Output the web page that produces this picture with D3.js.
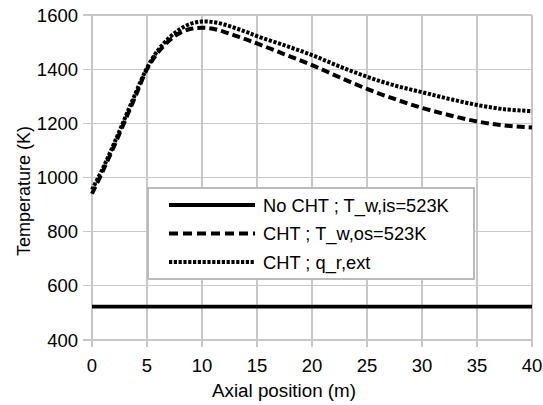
<!DOCTYPE html>
<html>
<head>
<meta charset="utf-8">
<script src="https://cdn.jsdelivr.net/npm/d3@7"></script>
<style>
  body { margin: 0; background: #fff; }
  text { font-family: "Liberation Sans", Arial, sans-serif; fill: #000; }
</style>
</head>
<body>
<div id="chart"></div>
<script>
// Data.
var xPos = [0, 1, 2, 3, 4, 5, 6, 7, 8, 9, 10, 11, 12, 13, 14, 15, 17.5, 20, 22.5, 25, 27.5, 30, 32.5, 35, 37.5, 40];
var noCht = [523, 523, 523, 523, 523, 523, 523, 523, 523, 523, 523, 523, 523, 523, 523, 523, 523, 523, 523, 523, 523, 523, 523, 523, 523, 523];
var chtOs = [940, 1025, 1115, 1210, 1305, 1400, 1462, 1505, 1534, 1549, 1553, 1549, 1538, 1524, 1510, 1495, 1455, 1415, 1370, 1327, 1290, 1257, 1230, 1207, 1192, 1185];
var chtQr = [955, 1035, 1125, 1220, 1315, 1405, 1470, 1515, 1548, 1568, 1576, 1574, 1565, 1552, 1538, 1522, 1488, 1452, 1410, 1372, 1340, 1315, 1290, 1268, 1252, 1245];
var xTicks = [0, 5, 10, 15, 20, 25, 30, 35, 40];
var yTicks = [400, 600, 800, 1000, 1200, 1400, 1600];
var seriesNames = ["No CHT ; T_w,is=523K", "CHT ; T_w,os=523K", "CHT ; q_r,ext"];

// Dimensions and margins.
var W = 543, H = 405;
var margin = {top: 15, right: 11, bottom: 65, left: 92},
    width = W - margin.left - margin.right,
    height = H - margin.top - margin.bottom;

var svg = d3.select("#chart")
    .append("svg")
    .attr("width", W)
    .attr("height", H);

var g = svg.append("g")
    .attr("transform", "translate(" + margin.left + "," + margin.top + ")");

// Scales.
var x = d3.scaleLinear().domain([0, 40]).range([0, width]),
    y = d3.scaleLinear().domain([400, 1600]).range([height, 0]);

var gridColor = "#c8c8c8";

// Grid lines (extend past the axes as tick marks).
g.append("g").selectAll("line").data(yTicks).enter().append("line")
    .attr("x1", -9).attr("x2", width)
    .attr("y1", function(d) { return y(d); })
    .attr("y2", function(d) { return y(d); })
    .attr("stroke", gridColor).attr("stroke-width", 1.2)
    .attr("shape-rendering", "crispEdges");

g.append("g").selectAll("line").data(xTicks).enter().append("line")
    .attr("y1", 0).attr("y2", height + 7)
    .attr("x1", function(d) { return x(d); })
    .attr("x2", function(d) { return x(d); })
    .attr("stroke", gridColor).attr("stroke-width", 1.2)
    .attr("shape-rendering", "crispEdges");

// Tick labels.
g.append("g").selectAll("text").data(yTicks).enter().append("text")
    .attr("x", -14)
    .attr("y", function(d) { return y(d); })
    .attr("dy", "0.36em")
    .attr("text-anchor", "end")
    .style("font-size", "18.5px")
    .text(function(d) { return d; });

g.append("g").selectAll("text").data(xTicks).enter().append("text")
    .attr("x", function(d) { return x(d); })
    .attr("y", height + 32)
    .attr("text-anchor", "middle")
    .style("font-size", "18.5px")
    .text(function(d) { return d; });

// Axis titles.
svg.append("text")
    .attr("x", 284)
    .attr("y", 397)
    .attr("text-anchor", "middle")
    .style("font-size", "18.8px")
    .text("Axial position (m)");

svg.append("text")
    .attr("transform", "translate(30,191) rotate(-90)")
    .attr("text-anchor", "middle")
    .style("font-size", "18px")
    .text("Temperature (K)");

// Lines.
var line = d3.line()
    .x(function(d) { return x(d[0]); })
    .y(function(d) { return y(d[1]); })
    .curve(d3.curveCatmullRom);

var styles = [
    {dash: null, w: 3.8},
    {dash: "8,4", w: 4},
    {dash: "3.2,1.6", w: 4}
];
var allSeries = [noCht, chtOs, chtQr];

allSeries.forEach(function(vals, i) {
    g.append("path")
        .datum(xPos.map(function(d, j) { return [d, vals[j]]; }))
        .attr("fill", "none")
        .attr("stroke", "#000")
        .attr("stroke-width", styles[i].w)
        .attr("stroke-dasharray", styles[i].dash)
        .attr("d", line);
});

// Legend.
var legend = svg.append("g").attr("transform", "translate(148,188)");
legend.append("rect")
    .attr("x", 0).attr("y", 0)
    .attr("width", 326).attr("height", 91)
    .attr("fill", "#fff")
    .attr("stroke", "#bbb")
    .attr("stroke-width", 1.2)
    .attr("shape-rendering", "crispEdges");

var legendDash = [null, "9,5", "3.2,1.6"];
seriesNames.forEach(function(name, i) {
    var ly = 17 + i * 28.5;
    legend.append("line")
        .attr("x1", 21).attr("x2", 107)
        .attr("y1", ly).attr("y2", ly)
        .attr("stroke", "#000")
        .attr("stroke-width", 3.8)
        .attr("stroke-dasharray", legendDash[i]);
    legend.append("text")
        .attr("x", 115)
        .attr("y", ly)
        .attr("dy", "0.36em")
        .style("font-size", "18.3px")
        .text(name);
});
</script>
</body>
</html>
